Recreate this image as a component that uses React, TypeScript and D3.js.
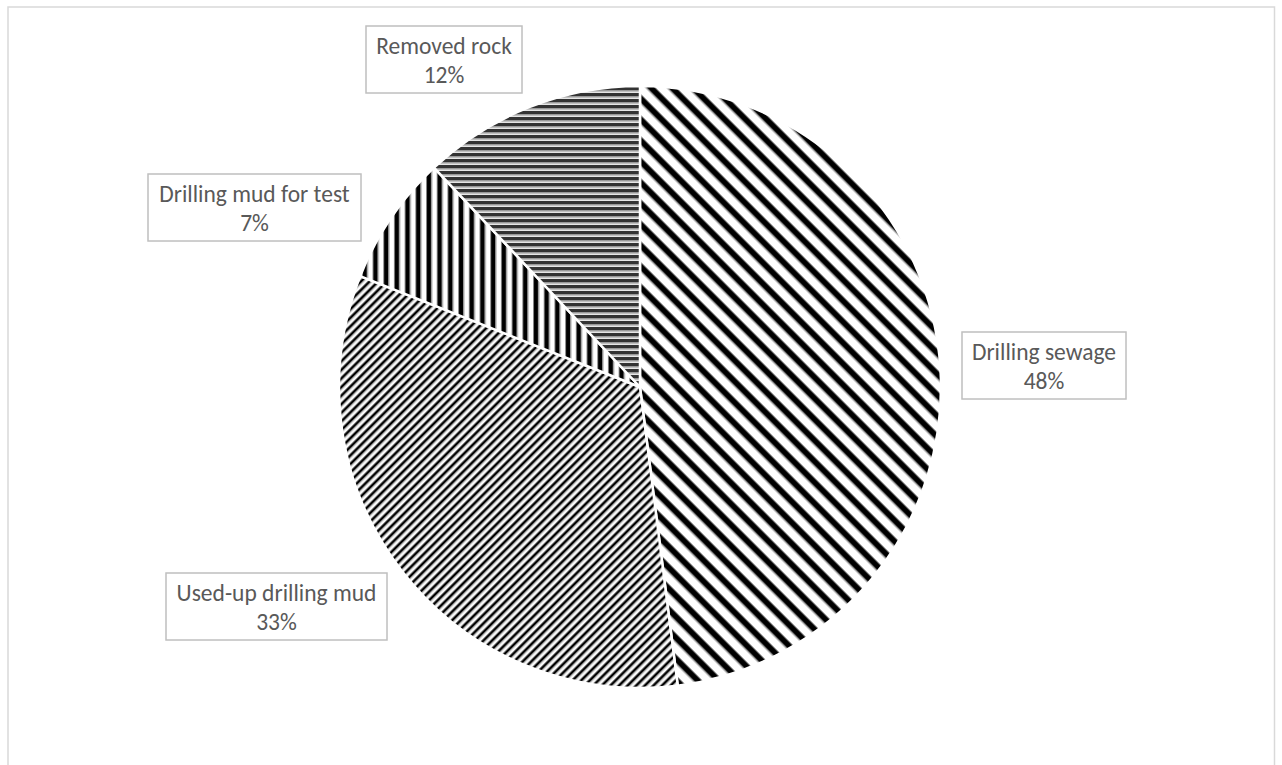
import React from "react";
import * as d3 from "d3";

const categories = ["Drilling sewage", "Used-up drilling mud", "Drilling mud for test", "Removed rock"];
const values = [48, 33, 7, 12];
const percentLabels = ["48%", "33%", "7%", "12%"];
const patternIds = ["pSewage", "pUsed", "pTest", "pRock"];

// label box layout (center x, center y, width)
const labelLayout = [
  { cx: 1044, cy: 365.5, w: 164 },
  { cx: 276.5, cy: 606.5, w: 221 },
  { cx: 254.5, cy: 207.5, w: 213 },
  { cx: 444, cy: 59.5, w: 156 },
];

const W = 1282;
const H = 765;
const CX = 640;
const CY = 387;
const R = 301;

export default function App() {
  const pie = d3.pie<number>().sort(null).value((d) => d).startAngle(0).endAngle(2 * Math.PI);
  const arcs = pie(values);
  const arc = d3.arc<d3.PieArcDatum<number>>().innerRadius(0).outerRadius(R);
  const font = "Carlito, Calibri, Lato, sans-serif";
  const sewP = 21 / Math.SQRT2;
  const usedP = 8.6 / Math.SQRT2;
  return (
    <svg width={W} height={H} style={{ position: "absolute", left: 0, top: 0, background: "#fff" }}>
      <defs>
        <pattern id="pSewage" patternUnits="userSpaceOnUse" width={sewP} height={sewP} patternTransform="rotate(45)">
          <rect x={0} y={0} width={sewP} height={sewP} fill="#fff" />
          <rect x={0} y={0} width={sewP} height={1} fill="#666" />
          <rect x={0} y={1} width={sewP} height={5.2} fill="#000" />
          <rect x={0} y={6.2} width={sewP} height={1} fill="#666" />
        </pattern>
        <pattern id="pUsed" patternUnits="userSpaceOnUse" width={usedP} height={usedP} patternTransform="rotate(-45)">
          <rect x={0} y={0} width={usedP} height={usedP} fill="#fafafa" />
          <rect x={0} y={0} width={usedP} height={0.8} fill="#777" />
          <rect x={0} y={0.8} width={usedP} height={2.1} fill="#000" />
          <rect x={0} y={2.9} width={usedP} height={0.8} fill="#777" />
        </pattern>
        <pattern id="pTest" patternUnits="userSpaceOnUse" width={10.7} height={10}>
          <rect x={0} y={0} width={10.7} height={10} fill="#fff" />
          <rect x={0} y={0} width={1} height={10} fill="#888" />
          <rect x={1} y={0} width={4.3} height={10} fill="#000" />
          <rect x={5.3} y={0} width={1} height={10} fill="#999" />
        </pattern>
        <pattern id="pRock" patternUnits="userSpaceOnUse" width={10} height={6}>
          <rect x={0} y={0} width={10} height={6} fill="#e6e6e6" />
          <rect x={0} y={0} width={10} height={3} fill="#333" />
          <rect x={0} y={3} width={10} height={1.5} fill="#999" />
        </pattern>
      </defs>
      <rect x={8} y={7} width={1266.5} height={H + 20} fill="#fff" stroke="#d9d9d9" strokeWidth={1.5} />
      <g transform={`translate(${CX},${CY})`}>
        {arcs.map((a, i) => (
          <path key={categories[i]} d={arc(a) || ""} fill={`url(#${patternIds[i]})`} stroke="#fff" strokeWidth={2.5} strokeLinejoin="round" />
        ))}
      </g>
      {categories.map((c, i) => {
        const L = labelLayout[i];
        const top = L.cy - 33.5;
        return (
          <g key={c}>
            <rect x={L.cx - L.w / 2} y={top} width={L.w} height={67} fill="#fff" stroke="#bfbfbf" strokeWidth={1.5} />
            <text x={L.cx} y={top + 28} textAnchor="middle" fontFamily={font} fontSize={23.5} fill="#595959">{c}</text>
            <text x={L.cx} y={top + 57} textAnchor="middle" fontFamily={font} fontSize={23.5} fill="#595959">{percentLabels[i]}</text>
          </g>
        );
      })}
    </svg>
  );
}
